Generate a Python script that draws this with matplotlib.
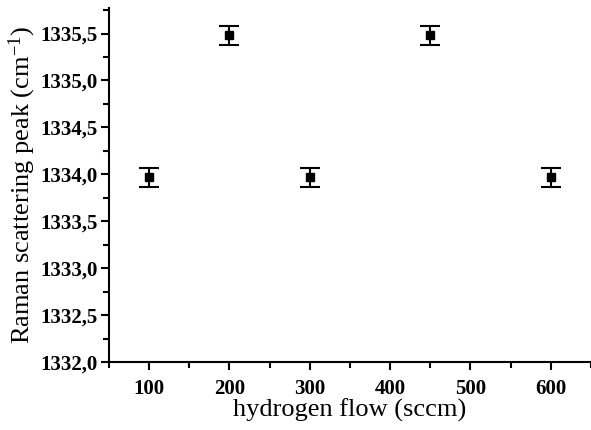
import matplotlib.pyplot as plt
from matplotlib.ticker import MultipleLocator, FuncFormatter

flow = [100, 200, 300, 450, 600]
peak = [1333.97, 1335.48, 1333.97, 1335.48, 1333.97]
err = [0.1, 0.1, 0.1, 0.1, 0.1]

plt.rcParams['font.family'] = 'Liberation Serif'
plt.rcParams['mathtext.default'] = 'regular'

fig = plt.figure(figsize=(5.91, 4.30), dpi=100)
ax = fig.add_axes([0.1844, 0.158, 0.8156, 0.823])

ax.errorbar(flow, peak, yerr=err, fmt='s', color='black', markersize=6,
            elinewidth=1.5, capsize=7, capthick=1.5)

ax.set_xlim(50, 650)
ax.set_ylim(1332.0, 1335.77)
ax.xaxis.set_major_locator(MultipleLocator(100))
ax.xaxis.set_minor_locator(MultipleLocator(50))
ax.yaxis.set_major_locator(MultipleLocator(0.5))
ax.yaxis.set_minor_locator(MultipleLocator(0.25))
ax.yaxis.set_major_formatter(FuncFormatter(lambda v, p: f'{v:.1f}'.replace('.', ',')))

for side in ['top', 'right']:
    ax.spines[side].set_visible(False)
for side in ['left', 'bottom']:
    ax.spines[side].set_linewidth(1.5)

ax.tick_params(which='major', direction='out', length=6, width=1.5, labelsize=15)
ax.tick_params(axis='y', which='major', pad=2)
ax.tick_params(axis='x', which='major', pad=6)
ax.tick_params(which='minor', direction='out', length=4, width=1.5)
for lbl in ax.get_xticklabels() + ax.get_yticklabels():
    lbl.set_fontweight('bold')

ax.set_xlabel('hydrogen flow (sccm)', fontsize=19, labelpad=0)
ax.set_ylabel('Raman scattering peak (cm$^{-1}$)', fontsize=19, labelpad=2)

fig.savefig('out.png', dpi=100)
